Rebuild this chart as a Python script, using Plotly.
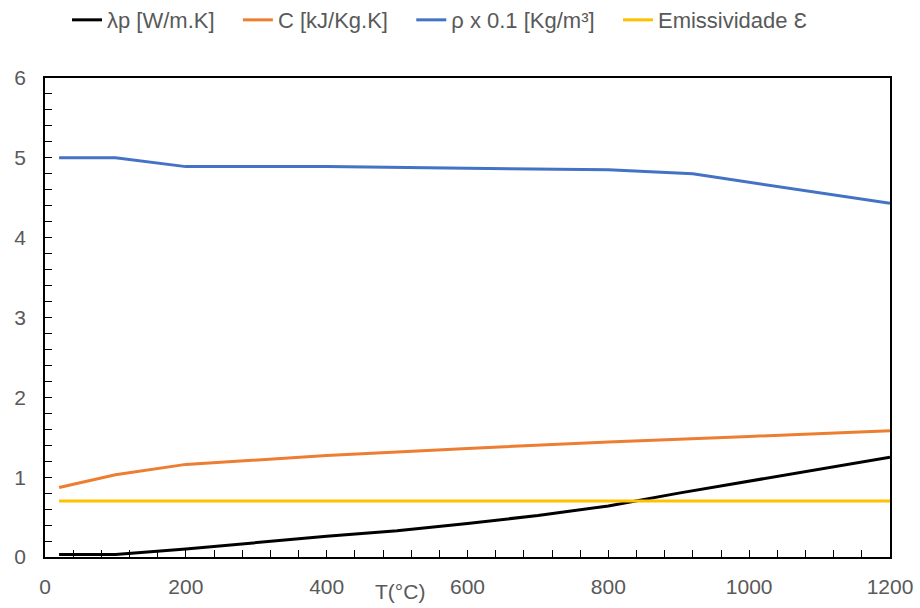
import plotly.graph_objects as go

T_lam = [20, 100, 200, 300, 400, 500, 600, 700, 800, 900, 1000, 1100, 1200]
lam = [0.03, 0.03, 0.10, 0.18, 0.26, 0.33, 0.42, 0.52, 0.64, 0.80, 0.95, 1.10, 1.25]
T_c = [20, 100, 200, 400, 600, 800, 1000, 1200]
C = [0.87, 1.03, 1.16, 1.27, 1.36, 1.44, 1.51, 1.58]
T_rho = [20, 100, 200, 400, 600, 800, 920, 1200]
rho = [5.0, 5.0, 4.89, 4.89, 4.87, 4.85, 4.80, 4.43]
T_e = [20, 1200]
emis = [0.7, 0.7]

pad = "\u00a0\u00a0\u00a0"
names = ["λp [W/m.K]" + pad, "C [kJ/Kg.K]" + pad, "ρ x 0.1 [Kg/m³]" + pad, "Emissividade Ɛ"]
colors = ["#000000", "#ED7D31", "#4472C4", "#FFC000"]

font = "Liberation Sans, Arial"
fig = go.Figure()
for xs, ys, n, c in [(T_lam, lam, names[0], colors[0]), (T_c, C, names[1], colors[1]),
                     (T_rho, rho, names[2], colors[2]), (T_e, emis, names[3], colors[3])]:
    fig.add_trace(go.Scatter(x=xs, y=ys, name=n, mode="lines",
                             line=dict(color=c, width=3)))

fig.update_layout(
    width=920, height=608,
    margin=dict(l=45, r=30, t=78, b=51, autoexpand=False),
    paper_bgcolor="white", plot_bgcolor="white",
    font=dict(family=font, color="#595959", size=21),
    legend=dict(orientation="h", x=(73 - 45 - 6) / 845, xanchor="left", y=1.121, yanchor="middle",
                font=dict(size=22, color="#595959"), itemwidth=30, tracegroupgap=0),
    showlegend=True,
)
fig.update_xaxes(range=[0, 1200], dtick=200, showgrid=False, zeroline=False,
                 showline=True, linecolor="#000000", linewidth=1.5, mirror=True,
                 ticks="inside", ticklen=7, tickcolor="#000000", automargin=False,
                 ticklabelstandoff=10,
                 minor=dict(dtick=40, ticks="inside", ticklen=7, tickcolor="#000000"),
                 tickfont=dict(size=21, color="#595959"))
fig.update_yaxes(range=[0, 6], dtick=1, showgrid=False, zeroline=False,
                 showline=True, linecolor="#000000", linewidth=1.5, mirror=True,
                 ticks="inside", ticklen=7, tickcolor="#000000", automargin=False,
                 ticklabelstandoff=13,
                 minor=dict(dtick=0.2, ticks="inside", ticklen=7, tickcolor="#000000"),
                 tickfont=dict(size=21, color="#595959"))
fig.add_annotation(text="T(°C)", xref="paper", yref="paper", x=(400-45)/845, y=-0.071,
                   xanchor="center", yanchor="middle", showarrow=False,
                   font=dict(size=21, color="#595959", family=font))
fig.write_html("out.html", config={"displayModeBar": False},
               post_script="document.body.style.margin='0';document.body.style.overflow='hidden';")
